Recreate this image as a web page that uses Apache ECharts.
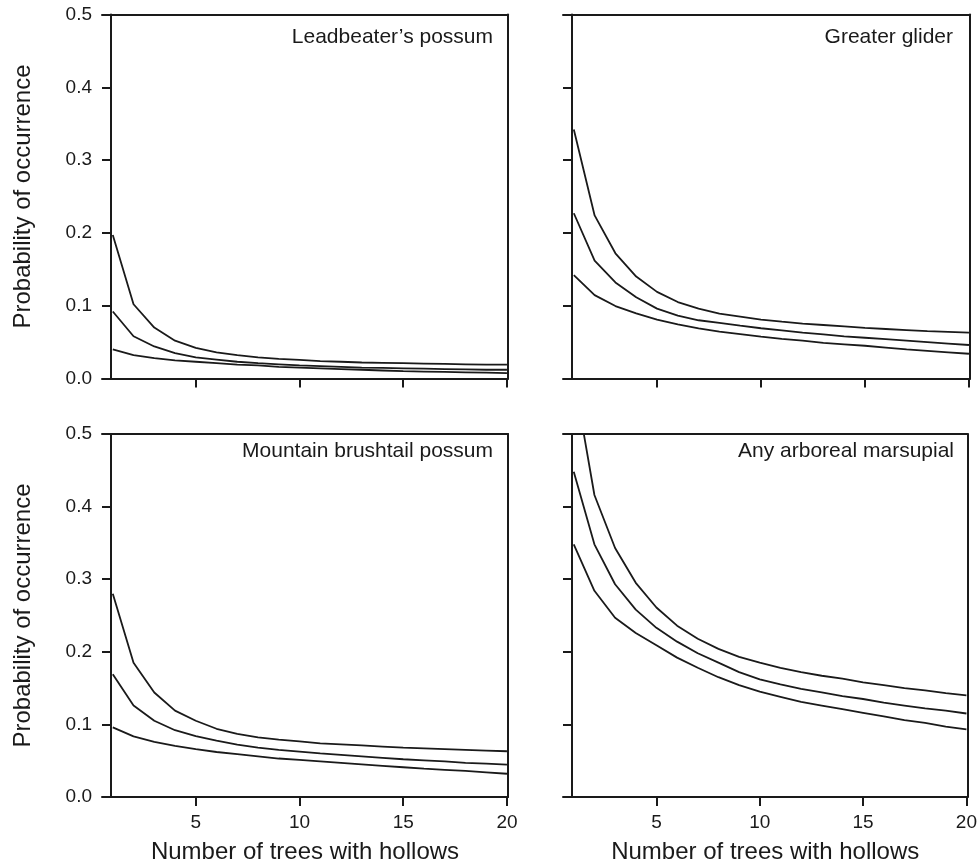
<!DOCTYPE html>
<html>
<head>
<meta charset="utf-8">
<script src="https://cdn.jsdelivr.net/npm/echarts@6/dist/echarts.min.js"></script>
<style>
html,body{margin:0;padding:0;background:#fff;}
#chart{width:980px;height:865px;}
</style>
</head>
<body>
<div id="chart"></div>
<script>
// Number of trees with hollows
const trees = [1,2,3,4,5,6,7,8,9,10,11,12,13,14,15,16,17,18,19,20];
const xTickValues = [5,10,15,20];
const yTickLabels = ['0.0','0.1','0.2','0.3','0.4','0.5'];
const panelTitles = ['Leadbeater\u2019s possum','Greater glider','Mountain brushtail possum','Any arboreal marsupial'];

// Leadbeater's possum (upper, fitted, lower)
const lbUpper = [0.197,0.102,0.070,0.052,0.042,0.036,0.032,0.029,0.027,0.0255,0.024,0.023,0.022,0.0215,0.021,0.0205,0.020,0.0195,0.019,0.019];
const lbMid   = [0.092,0.058,0.044,0.035,0.029,0.026,0.023,0.021,0.0195,0.018,0.017,0.016,0.015,0.0145,0.014,0.0135,0.013,0.0125,0.012,0.012];
const lbLower = [0.040,0.032,0.028,0.025,0.023,0.021,0.019,0.018,0.016,0.015,0.014,0.013,0.012,0.011,0.010,0.0095,0.009,0.0085,0.008,0.0075];

// Greater glider
const ggUpper = [0.342,0.224,0.172,0.140,0.119,0.105,0.096,0.089,0.085,0.081,0.078,0.0755,0.0735,0.0715,0.0695,0.068,0.0665,0.065,0.064,0.063];
const ggMid   = [0.227,0.162,0.132,0.1115,0.096,0.0865,0.080,0.0765,0.0725,0.069,0.066,0.063,0.0605,0.058,0.056,0.054,0.052,0.050,0.048,0.046];
const ggLower = [0.142,0.1145,0.0995,0.0895,0.081,0.0745,0.069,0.0645,0.061,0.0575,0.0545,0.052,0.049,0.047,0.045,0.0425,0.040,0.038,0.036,0.034];

// Mountain brushtail possum
const mbUpper = [0.280,0.185,0.144,0.119,0.105,0.094,0.087,0.082,0.079,0.0765,0.074,0.0725,0.071,0.0695,0.068,0.067,0.066,0.065,0.064,0.063];
const mbMid   = [0.169,0.126,0.105,0.092,0.084,0.0775,0.072,0.068,0.065,0.0625,0.060,0.058,0.056,0.054,0.052,0.0505,0.049,0.047,0.046,0.0445];
const mbLower = [0.096,0.0835,0.076,0.0705,0.066,0.062,0.059,0.056,0.053,0.051,0.049,0.047,0.045,0.043,0.041,0.039,0.0375,0.036,0.034,0.032];

// Any arboreal marsupial
const amUpper = [0.58,0.416,0.343,0.295,0.261,0.236,0.218,0.204,0.193,0.185,0.178,0.172,0.167,0.163,0.158,0.154,0.150,0.147,0.143,0.140];
const amMid   = [0.448,0.348,0.293,0.258,0.233,0.214,0.198,0.185,0.172,0.162,0.155,0.149,0.144,0.139,0.135,0.130,0.126,0.122,0.119,0.115];
const amLower = [0.348,0.284,0.247,0.226,0.209,0.192,0.178,0.165,0.154,0.145,0.138,0.131,0.126,0.121,0.116,0.111,0.106,0.102,0.097,0.093];

const panels = [
  [lbUpper, lbMid, lbLower],
  [ggUpper, ggMid, ggLower],
  [mbUpper, mbMid, mbLower],
  [amUpper, amMid, amLower]
];

const FONT = '"Liberation Sans", Arial, Helvetica, sans-serif';
const INK = '#1a1a1a';
const XMIN = 0.48, XMAX = 20.05;

const gridPos = [
  {left: 102, top: 14.5, width: 406, height: 364},
  {left: 563, top: 14.5, width: 407, height: 364},
  {left: 102, top: 434, width: 406, height: 364},
  {left: 563, top: 434, width: 407, height: 364}
];
const titlePos = [
  {right: 487, top: 27},
  {right: 27, top: 27},
  {right: 487, top: 441},
  {right: 26, top: 441}
];

const grids = [], xAxes = [], yAxes = [], series = [], titles = [];
const lineAxis = {show: true, onZero: false, lineStyle: {color: INK, width: 2}};

panels.forEach((curves, i) => {
  const isLeft = (i % 2 === 0);
  const isBottom = (i >= 2);
  grids.push(Object.assign({containLabel: false}, gridPos[i]));
  titles.push(Object.assign({
    text: panelTitles[i], padding: 0,
    textStyle: {fontFamily: FONT, fontSize: 21, fontWeight: 'normal', color: INK}
  }, titlePos[i]));
  // primary bottom x axis
  xAxes.push({
    gridIndex: i, type: 'value', min: XMIN, max: XMAX, position: 'bottom',
    axisLine: lineAxis,
    splitLine: {show: false},
    axisTick: {show: true, inside: false, length: 9, customValues: xTickValues, lineStyle: {color: INK, width: 2}},
    axisLabel: {show: isBottom, customValues: xTickValues, margin: 16, fontFamily: FONT, fontSize: 19, color: INK},
    name: isBottom ? 'Number of trees with hollows' : '',
    nameLocation: 'middle', nameGap: 43,
    nameTextStyle: {fontFamily: FONT, fontSize: 24, color: INK}
  });
  // top border axis
  xAxes.push({
    gridIndex: i, type: 'value', min: XMIN, max: XMAX, position: 'top',
    axisLine: lineAxis, axisTick: {show: false}, axisLabel: {show: false}, splitLine: {show: false}
  });
  // left y axis
  yAxes.push({
    gridIndex: i, type: 'value', min: 0, max: 0.5, interval: 0.1, position: 'left', offset: -9,
    axisLine: lineAxis,
    splitLine: {show: false},
    axisTick: {show: true, inside: false, length: 9, lineStyle: {color: INK, width: 2}},
    axisLabel: {show: isLeft, margin: 19, fontFamily: FONT, fontSize: 19, color: INK,
      formatter: v => yTickLabels[Math.round(v * 10)]},
    name: isLeft ? 'Probability of occurrence' : '',
    nameLocation: 'middle', nameGap: 76, nameRotate: 90,
    nameTextStyle: {fontFamily: FONT, fontSize: 24, color: INK}
  });
  // right border axis
  yAxes.push({
    gridIndex: i, type: 'value', min: 0, max: 0.5, position: 'right',
    axisLine: lineAxis, axisTick: {show: false}, axisLabel: {show: false}, splitLine: {show: false}
  });
  curves.forEach(vals => {
    series.push({
      type: 'line', xAxisIndex: i * 2, yAxisIndex: i * 2,
      data: trees.map((t, k) => [t, vals[k]]),
      symbol: 'none', clip: true, silent: true,
      lineStyle: {color: INK, width: 1.8}
    });
  });
});

const chart = echarts.init(document.getElementById('chart'), null, {renderer: 'canvas'});
chart.setOption({
  animation: false,
  backgroundColor: '#ffffff',
  title: titles,
  grid: grids,
  xAxis: xAxes,
  yAxis: yAxes,
  series: series
});
</script>
</body>
</html>
